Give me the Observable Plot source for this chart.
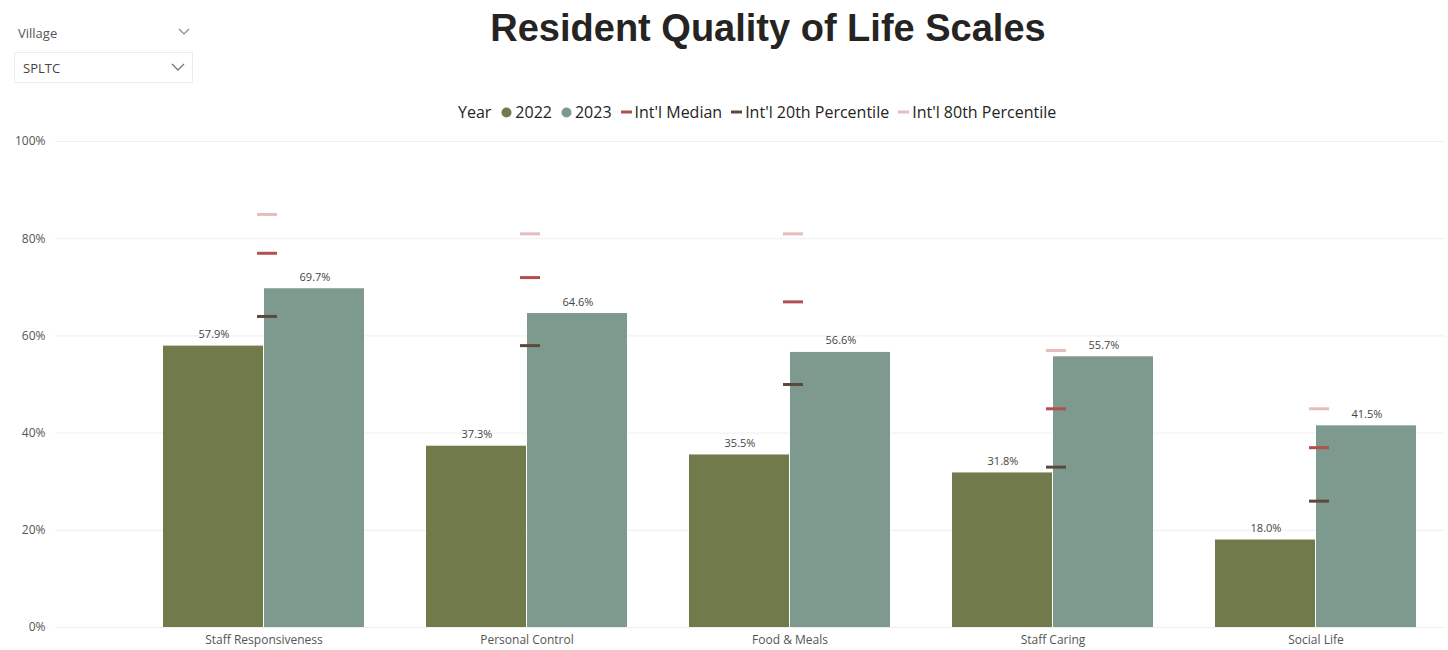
<!DOCTYPE html>
<html>
<head>
<meta charset="utf-8">
<script src="https://cdn.jsdelivr.net/npm/d3@7"></script>
<script src="https://cdn.jsdelivr.net/npm/@observablehq/plot@0.6"></script>
<style>
  body { margin: 0; background: #fff; font-family: "Open Sans", "Noto Sans", sans-serif; }
  #wrap { position: relative; width: 1448px; height: 650px; overflow: hidden; background: #fff; }
  #slicerLabel { position: absolute; left: 18px; top: 24px; font-size: 13px; color: #555; }
  #slicerChevron1 { position: absolute; left: 178px; top: 28px; }
  #slicerBox { position: absolute; left: 14px; top: 52px; width: 179px; height: 31px; border: 1px solid #ececec; box-sizing: border-box; }
  #slicerValue { position: absolute; left: 8px; top: 6px; font-size: 13px; color: #444; }
  #slicerChevron2 { position: absolute; left: 156px; top: 10px; }
  #title { position: absolute; left: 0; top: 7px; width: 1536px; text-align: center; font-size: 38px; font-weight: 700; color: #252423; font-family: "Liberation Sans", Arial, sans-serif; }
  #legend { position: absolute; left: 458px; top: 101px; display: flex; align-items: center; white-space: nowrap; font-size: 16px; color: #252423; }
  #legend .item { display: flex; align-items: center; margin-right: 9px; }
  #legend .sw { margin-right: 3px; }
  #chart { position: absolute; left: 0; top: 125px; }
</style>
</head>
<body>
<div id="wrap">
  <div id="slicerLabel">Village</div>
  <svg id="slicerChevron1" width="12" height="8"><polyline points="1,1 6,6 11,1" fill="none" stroke="#888" stroke-width="1.2"/></svg>
  <div id="slicerBox">
    <div id="slicerValue">SPLTC</div>
    <svg id="slicerChevron2" width="14" height="9"><polyline points="1,1 7,7 13,1" fill="none" stroke="#777" stroke-width="1.3"/></svg>
  </div>
  <div id="title">Resident Quality of Life Scales</div>
  <div id="legend"></div>
  <div id="chart"></div>
</div>
<script>
// ---- data ----
const categories = ["Staff Responsiveness", "Personal Control", "Food & Meals", "Staff Caring", "Social Life"];
const years = ["2022", "2023"];
const values2022 = [57.9, 37.3, 35.5, 31.8, 18.0];
const values2023 = [69.7, 64.6, 56.6, 55.7, 41.5];
const intlMedian = [77, 72, 67, 45, 37];
const intl20th = [64, 58, 50, 33, 26];
const intl80th = [85, 81, 81, 57, 45];
const yTicks = [0, 20, 40, 60, 80, 100];
const benchmarkNames = ["Int'l Median", "Int'l 20th Percentile", "Int'l 80th Percentile"];

// ---- styles ----
const yearColors = {"2022": "#717a4a", "2023": "#7e9a8e"};
const benchColors = {"Int'l Median": "#b24f4f", "Int'l 20th Percentile": "#5b4a3b", "Int'l 80th Percentile": "#e6bcbc"};

const rows2022 = categories.map((c, i) => ({category: c, year: "2022", value: values2022[i]}));
const rows2023 = categories.map((c, i) => ({category: c, year: "2023", value: values2023[i]}));
const benchSeries = {
  "Int'l Median": intlMedian,
  "Int'l 20th Percentile": intl20th,
  "Int'l 80th Percentile": intl80th
};
const benchRows = name => categories.map((c, i) => ({category: c, value: benchSeries[name][i]}));

const fmt = d => d.value.toFixed(1) + "%";

const chart = Plot.plot({
  width: 1448,
  height: 525,
  marginTop: 16,
  marginBottom: 23,
  marginLeft: 55,
  marginRight: 3,
  style: {fontFamily: "Open Sans, Noto Sans, sans-serif", fontSize: "12px", color: "#555", background: "transparent"},
  x: {domain: categories, range: [132, 1447], padding: 0, tickSize: 0, tickPadding: 8, label: null},
  y: {domain: [0, 100], ticks: yTicks, tickFormat: d => d + "%", tickSize: 0, tickPadding: 10, label: null},
  marks: [
    Plot.ruleY(yTicks, {stroke: "#eeeeee", strokeWidth: 1}),
    Plot.barY(rows2022, {x: "category", y: "value", fill: yearColors["2022"], insetLeft: 31, insetRight: 132}),
    Plot.barY(rows2023, {x: "category", y: "value", fill: yearColors["2023"], insetLeft: 132, insetRight: 31}),
    Plot.text(rows2022, {x: "category", y: "value", text: fmt, dx: -50, dy: -8, lineAnchor: "bottom", fontSize: 11, fill: "#444"}),
    Plot.text(rows2023, {x: "category", y: "value", text: fmt, dx: 51, dy: -8, lineAnchor: "bottom", fontSize: 11, fill: "#444"}),
    ...benchmarkNames.map(name =>
      Plot.tickY(benchRows(name), {x: "category", y: "value", stroke: benchColors[name], strokeWidth: 3, insetLeft: 125, insetRight: 118})
    )
  ]
});
document.getElementById("chart").appendChild(chart);

// ---- legend ----
const legend = document.getElementById("legend");
const yearLbl = document.createElement("span");
yearLbl.textContent = "Year";
yearLbl.style.marginRight = "10px";
legend.appendChild(yearLbl);
years.forEach(y => {
  const it = document.createElement("span");
  it.className = "item";
  it.innerHTML = `<svg class="sw" width="11" height="11"><circle cx="5.5" cy="5.5" r="5" fill="${yearColors[y]}"/></svg><span>${y}</span>`;
  legend.appendChild(it);
});
benchmarkNames.forEach(n => {
  const it = document.createElement("span");
  it.className = "item";
  it.innerHTML = `<svg class="sw" width="11" height="4"><rect x="0" y="0.5" width="11" height="3" fill="${benchColors[n]}"/></svg><span>${n}</span>`;
  legend.appendChild(it);
});
</script>
</body>
</html>
